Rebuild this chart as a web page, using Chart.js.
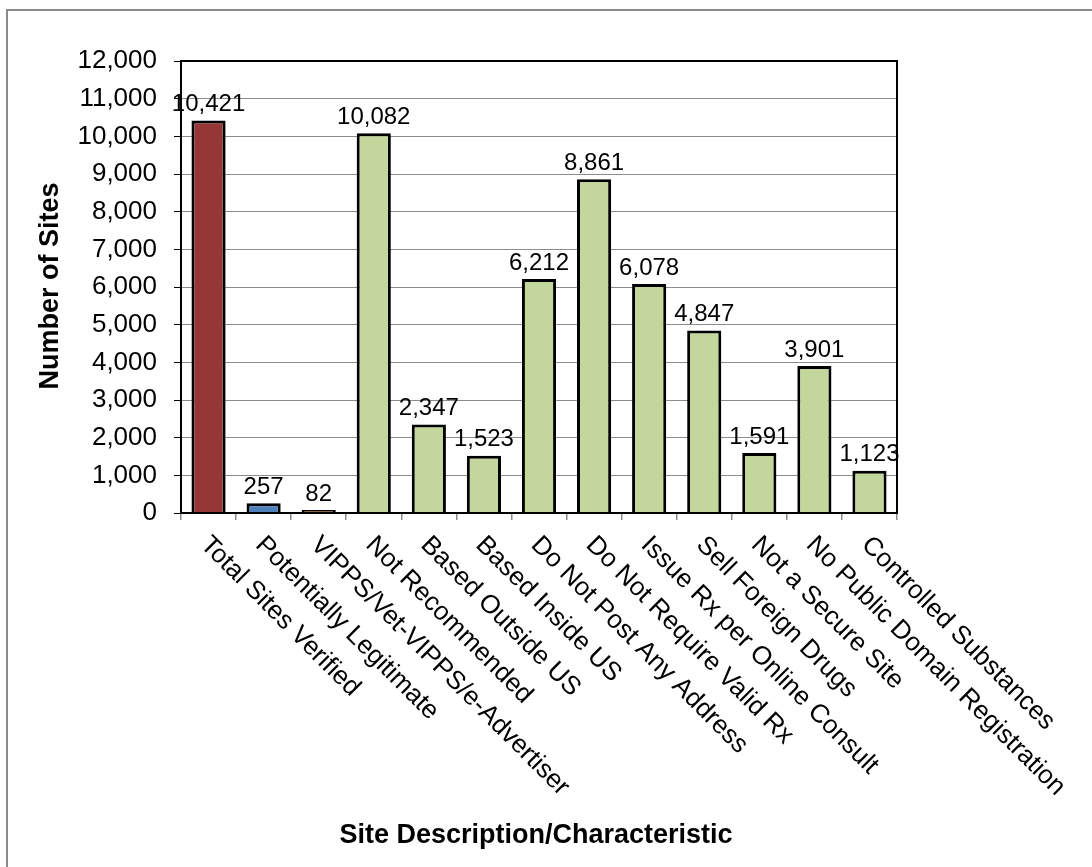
<!DOCTYPE html>
<html>
<head>
<meta charset="utf-8">
<script src="https://cdn.jsdelivr.net/npm/chart.js@4/dist/chart.umd.min.js"></script>
<style>
  html, body { margin: 0; padding: 0; background: #fff; }
  canvas { display: block; }
</style>
</head>
<body>
<canvas id="sites" width="1092" height="867"></canvas>
<script>
// values
let categories = [
    "Total Sites Verified", "Potentially Legitimate", "VIPPS/Vet-VIPPS/e-Advertiser",
    "Not Recommended", "Based Outside US", "Based Inside US", "Do Not Post Any Address",
    "Do Not Require Valid Rx", "Issue Rx per Online Consult", "Sell Foreign Drugs",
    "Not a Secure Site", "No Public Domain Registration", "Controlled Substances"
];
let siteCounts = [10421, 257, 82, 10082, 2347, 1523, 6212, 8861, 6078, 4847, 1591, 3901, 1123];
let barColors = ["#953735", "#4F81BD", "#7A4A1C", "#C3D69B", "#C3D69B", "#C3D69B", "#C3D69B",
    "#C3D69B", "#C3D69B", "#C3D69B", "#C3D69B", "#C3D69B", "#C3D69B"];
let yTicks = { min: 0, max: 12000, step: 1000 };
let yTitle = "Number of Sites";
let xTitle = "Site Description/Characteristic";

const FONT = "'Liberation Sans', Arial, sans-serif";

function fmt(n) {
    return n.toLocaleString("en-US");
}

// frame, plot border, value labels, slanted category labels and axis titles
const decorations = {
    id: "decorations",
    afterDraw(chart) {
        let ctx = chart.ctx;
        let area = chart.chartArea;
        let xs = chart.scales.x;
        let meta = chart.getDatasetMeta(0);

        ctx.save();
        // outer frame, only top and left are visible in the picture
        ctx.strokeStyle = "#8a8a8a";
        ctx.lineWidth = 2;
        ctx.beginPath();
        ctx.moveTo(7, 867);
        ctx.lineTo(7, 10);
        ctx.lineTo(1092, 10);
        ctx.stroke();

        // plot area border
        ctx.strokeStyle = "#000";
        ctx.lineWidth = 2;
        ctx.strokeRect(area.left, area.top, area.right - area.left, area.bottom - area.top);

        // value labels
        ctx.fillStyle = "#000";
        ctx.font = "24px " + FONT;
        ctx.textAlign = "center";
        ctx.textBaseline = "bottom";
        meta.data.forEach((bar, i) => {
            ctx.fillText(fmt(siteCounts[i]), bar.x, bar.y - 4);
        });

        // category labels running down-right from each tick
        ctx.font = "26px " + FONT;
        ctx.textAlign = "left";
        ctx.textBaseline = "middle";
        categories.forEach((c, i) => {
            let cx = xs.getPixelForValue(i);
            ctx.save();
            ctx.translate(cx - 4, area.bottom + 28);
            ctx.rotate(Math.PI / 4);
            ctx.fillText(c, 0, 0);
            ctx.restore();
        });

        // axis titles
        ctx.font = "bold 27px " + FONT;
        ctx.textAlign = "center";
        ctx.textBaseline = "middle";
        ctx.fillText(xTitle, 536, 836);
        ctx.save();
        ctx.translate(51, 286);
        ctx.rotate(-Math.PI / 2);
        ctx.fillText(yTitle, 0, 0);
        ctx.restore();
        ctx.restore();
    }
};

let ctx = document.getElementById("sites").getContext("2d");
new Chart(ctx, {
    type: "bar",
    data: {
        labels: categories,
        datasets: [{
            data: siteCounts,
            backgroundColor: barColors,
            borderColor: "#000",
            borderWidth: 3,
            barPercentage: 0.62,
            categoryPercentage: 1.0
        }]
    },
    options: {
        responsive: false,
        animation: false,
        devicePixelRatio: 1,
        layout: { padding: { left: 0, top: 61, right: 195, bottom: 0 } },
        plugins: {
            legend: { display: false },
            tooltip: { enabled: false }
        },
        scales: {
            x: {
                afterFit(scale) { scale.height = 354; },
                grid: {
                    offset: true,
                    drawOnChartArea: false,
                    tickLength: 7,
                    tickColor: "#8a8a8a",
                    lineWidth: 1.5
                },
                border: { display: false },
                ticks: { display: false }
            },
            y: {
                min: yTicks.min,
                max: yTicks.max,
                afterFit(scale) { scale.width = 181; },
                ticks: {
                    stepSize: yTicks.step,
                    color: "#000",
                    padding: 17,
                    font: { family: FONT, size: 26 },
                    callback: v => fmt(v)
                },
                grid: {
                    color: "#8c8c8c",
                    lineWidth: 1,
                    tickLength: 7,
                    tickColor: "#000"
                },
                border: { display: false }
            }
        }
    },
    plugins: [decorations]
});
</script>
</body>
</html>
